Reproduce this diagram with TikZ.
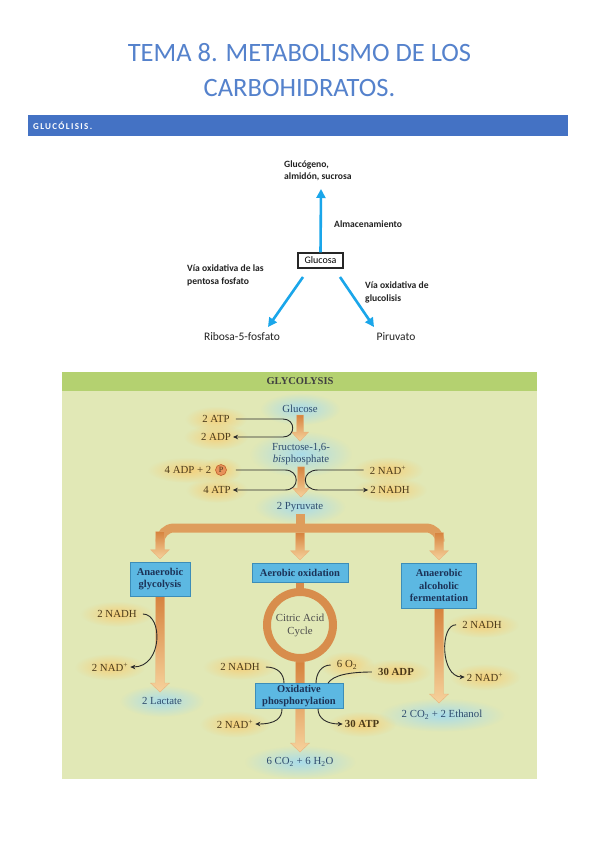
\documentclass[tikz,border=0pt]{standalone}
\usepackage{fontspec}
\setmainfont{Liberation Serif}
\newfontfamily\calfont{Carlito}
\newfontfamily\calspaced{Carlito}[LetterSpace=15]
\usetikzlibrary{arrows.meta,calc,fadings}
\definecolor{titleblue}{HTML}{5582CC}
\definecolor{barblue}{HTML}{4472C4}
\definecolor{cyanA}{HTML}{1AA6EA}
\definecolor{panelbg}{HTML}{E1E8B6}
\definecolor{headg}{HTML}{B4D170}
\definecolor{boxF}{HTML}{5CB8E2}
\definecolor{boxE}{HTML}{3C8DB8}
\definecolor{boxT}{HTML}{1C3358}
\definecolor{ringc}{HTML}{D88D4C}
\definecolor{barc}{HTML}{DE9D5C}
\definecolor{shT}{HTML}{D6833E}
\definecolor{shB}{HTML}{F6D29C}
\definecolor{shE}{HTML}{E9B47C}
\definecolor{glowO}{HTML}{F6CF78}
\definecolor{glowB}{HTML}{A6DBEC}
\definecolor{labO}{HTML}{4B3A1A}
\definecolor{labB}{HTML}{2F4C6E}
\definecolor{rxc}{HTML}{2A2A2A}
\definecolor{pfill}{HTML}{E8925A}
\definecolor{pedge}{HTML}{C0622E}
\definecolor{esText}{HTML}{222222}
\pgfdeclarelayer{back}
\pgfdeclarelayer{glow}
\pgfdeclarelayer{mid}
\pgfsetlayers{back,glow,mid,main}
\tikzfading[name=softglow, inner color=transparent!5, outer color=transparent!100]
\newcommand\fatarr[3][3.5]{\shade[fatshade] let \p1=(#2), \p2=(#3) in (\x1-#1pt,\y1) -- (\x1+#1pt,\y1) -- (\x1+#1pt,\y2+9pt) -- (\x1+#1pt+5pt,\y2+9pt) -- (\x1,\y2) -- (\x1-#1pt-5pt,\y2+9pt) -- (\x1-#1pt,\y2+9pt) -- cycle;}
\begin{document}
\begin{tikzpicture}[x=1pt,y=-1pt,
  title/.style={font=\calfont\fontsize{26.5}{30}\selectfont, text=titleblue, inner sep=0pt},
  es/.style={font=\calfont\bfseries\fontsize{9.6}{12.5}\selectfont, align=left, inner sep=0pt, text=esText},
  esbig/.style={font=\calfont\fontsize{11.5}{13}\selectfont, inner sep=0pt, text=esText},
  cyanarr/.style={draw=cyanA, line width=2.6pt, -{Triangle[length=9pt,width=9pt]}},
  lab/.style={font=\fontsize{10.8}{12}\selectfont, text=labO, inner sep=2pt},
  labb/.style={font=\bfseries\fontsize{10.8}{12}\selectfont, text=labO, inner sep=2pt},
  blab/.style={font=\fontsize{10.8}{12}\selectfont, text=labB, inner sep=2pt, align=center},
  pbox/.style={draw=boxE, fill=boxF, line width=0.6pt, text=boxT, font=\bfseries\fontsize{10.5}{12.5}\selectfont, align=center, inner sep=1pt},
  rx/.style={draw=rxc, line width=0.9pt, -{Stealth[length=5pt,width=4.5pt]}},
  rx0/.style={draw=rxc, line width=0.9pt},
  gap/.style={shorten <=4pt},
  fatshade/.style={top color=shT, bottom color=shB, draw=shE, line width=0.4pt},
  barline/.style={draw=barc, line width=9pt},
  stem/.style={draw=ringc, line width=8pt}
]
\useasboundingbox (0,0) rectangle (599,848);
\begin{pgfonlayer}{back}
\fill[white] (0,0) rectangle (599,848);
\end{pgfonlayer}

% ---------- title and section bar ----------
\node[title, anchor=base] (t1) at (299.5,62) {TEMA 8. METABOLISMO DE LOS};
\node[title, anchor=base] (t2) at (299.5,97) {CARBOHIDRATOS.};
\node[fill=barblue, minimum width=540pt, minimum height=21pt, inner sep=0pt, anchor=north west] (bar) at (28,115) {};
\node[anchor=west, text=white, inner sep=0pt, font=\calspaced\bfseries\fontsize{9}{10}\selectfont] (glt) at (33,126) {GLUCÓLISIS.};

% ---------- top scheme ----------
\node[es, anchor=west] (gluc) at (284,171) {Glucógeno,\\almidón, sucrosa};
\node[draw=black!85, line width=1.1pt, fill=white, minimum width=45pt, minimum height=15pt, inner sep=1pt, font=\calfont\fontsize{10}{12}\selectfont] (glucosa) at (320.5,260.5) {Glucosa};
\coordinate (upTip) at (321,189);
\draw[cyanarr] (glucosa.north) -- (upTip);
\node[es, anchor=west] (alm) at (334,224) {Almacenamiento};
\node[es, anchor=west] (vpf) at (187,275.5) {Vía oxidativa de las\\pentosa fosfato};
\node[es, anchor=west] (vgl) at (365,292.5) {Vía oxidativa de\\glucolisis};
\node[esbig] (rib) at (242,337) {Ribosa-5-fosfato};
\node[esbig] (piru) at (396,337) {Piruvato};
\coordinate (l0) at (303,277);
\coordinate (l1) at (268,327);
\coordinate (r0) at (340,277);
\coordinate (r1) at (374,327);
\draw[cyanarr] (l0) -- (l1);
\draw[cyanarr] (r0) -- (r1);

% ---------- glycolysis panel ----------
\begin{pgfonlayer}{back}
\fill[panelbg] (62,372) rectangle (537,779);
\fill[headg] (62,372) rectangle (537,391);
\end{pgfonlayer}
\node[font=\bfseries\fontsize{10.5}{12}\selectfont, text=black!75] (gly) at (300,381.5) {GLYCOLYSIS};

% labels, upper part
\node[blab] (glucose) at (300,409) {Glucose};
\node[lab] (atp2) at (216,419) {2 ATP};
\node[lab] (adp2) at (216,437) {2 ADP};
\node[blab] (fbp) at (301,454) {Fructose-1,6-\\\textit{bis}phosphate};
\node[lab] (adp4) at (188,470) {4 ADP + 2};
\node[circle, fill=pfill, draw=pedge, line width=0.6pt, inner sep=0pt, minimum size=11pt, font=\fontsize{8}{9}\selectfont, text=labO] (pc) at (221,470) {P};
\node[lab] (atp4) at (217,490) {4 ATP};
\node[lab] (nadp1) at (388,470) {2 NAD\textsuperscript{+}};
\node[lab] (nadh1) at (390,490) {2 NADH};
\node[blab] (pyr) at (300,507) {2 Pyruvate};

% boxes
\node[pbox, minimum width=60pt, minimum height=34pt] (anG) at (160,579) {Anaerobic\\glycolysis};
\node[pbox, minimum width=96pt, minimum height=19pt] (aer) at (300,572.5) {Aerobic oxidation};
\node[pbox, minimum width=75pt, minimum height=45pt] (anF) at (439,585.5) {Anaerobic\\alcoholic\\fermentation};
\node[circle, draw=ringc, line width=8pt, minimum size=66pt, inner sep=0pt, align=center, font=\fontsize{10.8}{13}\selectfont, text=black!70] (cac) at (300,625) {Citric Acid\\Cycle};
\node[pbox, minimum width=88pt, minimum height=25pt] (oxp) at (299,696) {Oxidative\\phosphorylation};

% labels, lower part
\node[lab] (nadhL) at (117,614) {2 NADH};
\node[lab] (nadpL) at (110,667) {2 NAD\textsuperscript{+}};
\node[blab] (lac) at (162,701) {2 Lactate};
\node[lab] (nadhM) at (240,667) {2 NADH};
\node[lab] (o2) at (347,665) {6 O\textsubscript{2}};
\node[labb] (adp30) at (396,672) {30 ADP};
\node[lab] (nadpM) at (235,724) {2 NAD\textsuperscript{+}};
\node[labb] (atp30) at (362,724) {30 ATP};
\node[blab] (co2h2o) at (300,762) {6 CO\textsubscript{2} + 6 H\textsubscript{2}O};
\node[lab] (nadhR) at (482,625) {2 NADH};
\node[lab] (nadpR) at (485,677) {2 NAD\textsuperscript{+}};
\node[blab] (etoh) at (442,715) {2 CO\textsubscript{2} + 2 Ethanol};

\coordinate (bj) at (300,528);
\coordinate (tipL) at (160,692);
\coordinate (tipM) at (300,752);
\coordinate (tipR) at (439,703);

% glows
\begin{pgfonlayer}{glow}
\foreach \nd in {atp2,adp2,adp4,pc,atp4,nadp1,nadh1,nadhL,nadpL,nadhM,o2,adp30,nadpM,atp30,nadhR,nadpR}{
  \path[fill=glowO, path fading=softglow] let \p1=($(\nd.east)-(\nd.west)$), \p2=($(\nd.north)-(\nd.south)$) in (\nd.center) ellipse[x radius={0.5*\x1+15pt}, y radius={0.5*\y2+7pt}];
}
\foreach \nd in {glucose,fbp,pyr,lac,co2h2o,etoh}{
  \path[fill=glowB, path fading=softglow] let \p1=($(\nd.east)-(\nd.west)$), \p2=($(\nd.north)-(\nd.south)$) in (\nd.center) ellipse[x radius={0.5*\x1+20pt}, y radius={0.5*\y2+10pt}];
}
\end{pgfonlayer}

% orange flow arrows
\begin{pgfonlayer}{mid}
\fatarr{glucose.south}{fbp.north}
\fatarr{fbp.south}{$(pyr.north)+(0,-3)$}
\draw[barline] (pyr.south) -- (bj);
\draw[barline, rounded corners=14pt] (160,542) -- (160,528) -- (440,528) -- (440,542);
\fatarr[4.5]{$(anG.north)+(0,-30)$}{$(anG.north)+(0,-3)$}
\fatarr[4.5]{$(aer.north)+(0,-30)$}{$(aer.north)+(0,-3)$}
\fatarr[4.5]{$(anF.north)+(0,-30)$}{$(anF.north)+(0,-3)$}
\fatarr[4.5]{anG.south}{tipL}
\fatarr[4.5]{anF.south}{tipR}
\draw[stem] (aer.south) -- (cac.north);
\fatarr[4.5]{cac.south}{tipM}
\end{pgfonlayer}

% reaction arrows, upper part
\draw[rx, gap] (atp2.east) -- (283,419) .. controls (296,419) and (296,437) .. (283,437) -- (adp2.east);
\draw[rx, shorten <=9pt] (pc.east) -- (285,470) .. controls (300,470) and (300,490) .. (285,490) -- (atp4.east);
\draw[rx, gap] (nadp1.west) -- (318,470) .. controls (301,470) and (301,490) .. (318,490) -- (nadh1.west);

% reaction arrows, lower part
\draw[rx, gap] (nadhL.east) .. controls (163,614) and (163,667) .. (nadpL.east);
\draw[rx, gap] (nadhR.west) .. controls (440,624) and (440,677) .. (nadpR.west);
\draw[rx0, gap] (nadhM.east) .. controls (278,667) and (284,674) .. ($(oxp.north)+(-15,0)$);
\draw[rx0, gap] (o2.west) .. controls (321,665) and (316,674) .. ($(oxp.north)+(17,0)$);
\draw[rx0, gap] (adp30.west) .. controls (350,672) and (333,675) .. ($(oxp.north)+(29,0)$);
\draw[rx] ($(oxp.south)+(-17,0)$) .. controls (282,718) and (276,724) .. (nadpM.east);
\draw[rx] ($(oxp.south)+(19,0)$) .. controls (318,718) and (326,724) .. (atp30.west);
\end{tikzpicture}
\end{document}
